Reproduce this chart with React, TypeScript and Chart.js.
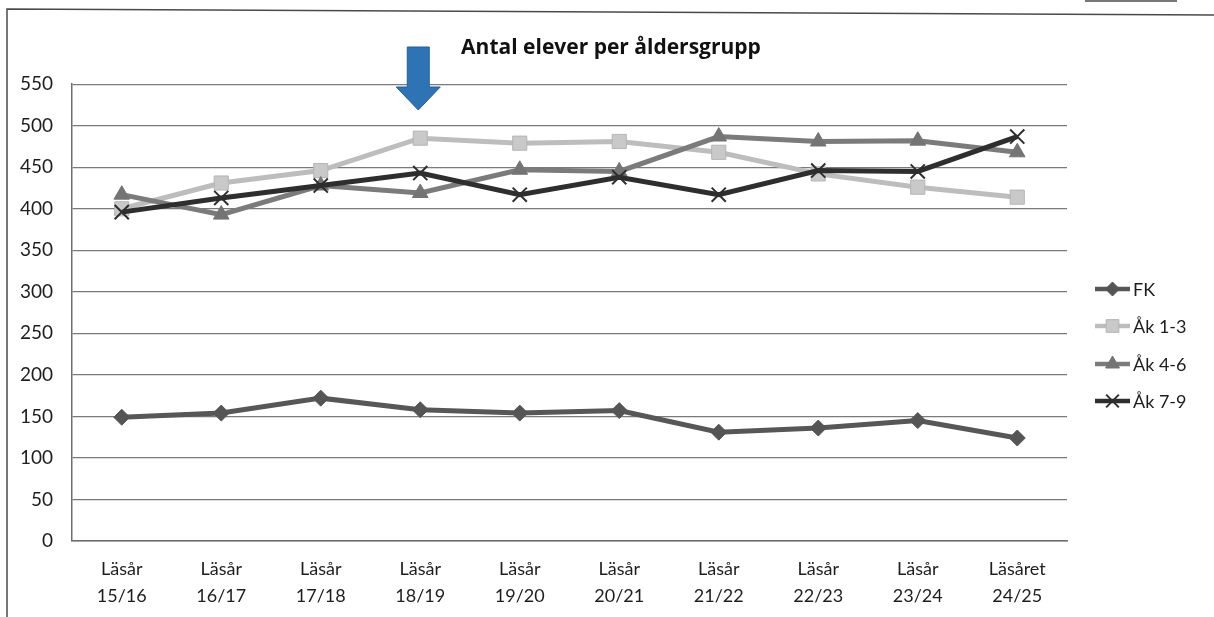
import React, { useEffect, useRef } from "react";
import { Chart, registerables } from "chart.js";

Chart.register(...registerables);

const TITLE = "Antal elever per åldersgrupp";
const categories: string[][] = [
  ["Läsår", "15/16"],
  ["Läsår", "16/17"],
  ["Läsår", "17/18"],
  ["Läsår", "18/19"],
  ["Läsår", "19/20"],
  ["Läsår", "20/21"],
  ["Läsår", "21/22"],
  ["Läsår", "22/23"],
  ["Läsår", "23/24"],
  ["Läsåret", "24/25"],
];
const seriesNames = ["FK", "Åk 1-3", "Åk 4-6", "Åk 7-9"];
const fk = [149, 154, 172, 158, 154, 157, 131, 136, 145, 124];
const ak13 = [400, 431, 446, 485, 479, 481, 468, 442, 426, 414];
const ak46 = [417, 393, 428, 419, 447, 445, 487, 481, 482, 468];
const ak79 = [396, 413, 428, 443, 417, 438, 417, 446, 445, 487];
const yMin = 0;
const yMax = 550;
const yStep = 50;
const arrowCategoryIndex = 3;

const FONT = "Lato, 'Open Sans', sans-serif";

type Style = {
  line: string;
  fill: string;
  border: string;
  point: any;
  radius: number;
  pbw: number;
};
const styles: Style[] = [
  { line: "#575757", fill: "#555555", border: "#555555", point: "rectRot", radius: 8, pbw: 1 },
  { line: "#bdbdbd", fill: "#c9c9c9", border: "#b5b5b5", point: "rect", radius: 10, pbw: 1 },
  { line: "#7b7b7b", fill: "#747474", border: "#747474", point: "triangle", radius: 9, pbw: 1 },
  { line: "#2e2e2e", fill: "#2e2e2e", border: "#2e2e2e", point: "crossRot", radius: 10, pbw: 2 },
];

function drawMarker(ctx: CanvasRenderingContext2D, st: Style, x: number, y: number) {
  const r = st.radius;
  ctx.fillStyle = st.fill;
  ctx.strokeStyle = st.border;
  ctx.lineWidth = st.pbw;
  ctx.beginPath();
  if (st.point === "rectRot") {
    ctx.moveTo(x, y - r);
    ctx.lineTo(x + r, y);
    ctx.lineTo(x, y + r);
    ctx.lineTo(x - r, y);
    ctx.closePath();
    ctx.fill();
    ctx.stroke();
  } else if (st.point === "rect") {
    const s = r * Math.SQRT1_2;
    ctx.rect(x - s, y - s, 2 * s, 2 * s);
    ctx.fill();
    ctx.stroke();
  } else if (st.point === "triangle") {
    ctx.moveTo(x, y - r);
    ctx.lineTo(x + r * 0.866, y + r / 2);
    ctx.lineTo(x - r * 0.866, y + r / 2);
    ctx.closePath();
    ctx.fill();
    ctx.stroke();
  } else {
    const s = r * Math.SQRT1_2;
    ctx.moveTo(x - s, y - s);
    ctx.lineTo(x + s, y + s);
    ctx.moveTo(x + s, y - s);
    ctx.lineTo(x - s, y + s);
    ctx.stroke();
  }
}

const framePlugin = {
  id: "frame",
  beforeDraw(chart: any) {
    const ctx = chart.ctx;
    ctx.save();
    ctx.fillStyle = "#ffffff";
    ctx.fillRect(0, 0, chart.width, chart.height);
    ctx.strokeStyle = "#4a4a4a";
    ctx.lineWidth = 1.5;
    ctx.beginPath();
    ctx.moveTo(7, chart.height);
    ctx.lineTo(7, 9);
    ctx.lineTo(chart.width, 15);
    ctx.stroke();
    ctx.beginPath();
    ctx.moveTo(1085, 1);
    ctx.lineTo(1177, 1);
    ctx.stroke();
    ctx.restore();
  },
};

const arrowPlugin = {
  id: "arrow",
  afterDraw(chart: any) {
    const ctx = chart.ctx;
    const x = chart.scales.x.getPixelForValue(arrowCategoryIndex) - 2;
    ctx.save();
    ctx.fillStyle = "#2e74b5";
    ctx.strokeStyle = "#235f96";
    ctx.lineWidth = 1;
    ctx.beginPath();
    ctx.moveTo(x - 11, 47);
    ctx.lineTo(x + 11, 47);
    ctx.lineTo(x + 11, 87);
    ctx.lineTo(x + 22, 87);
    ctx.lineTo(x, 110);
    ctx.lineTo(x - 22, 87);
    ctx.lineTo(x - 11, 87);
    ctx.closePath();
    ctx.fill();
    ctx.stroke();
    ctx.restore();
  },
};

const legendPlugin = {
  id: "customLegend",
  afterDraw(chart: any) {
    const ctx = chart.ctx;
    const x0 = 1095;
    const x1 = 1130;
    const ys = [289, 326, 364, 401];
    ctx.save();
    chart.data.datasets.forEach((ds: any, i: number) => {
      const st = styles[i];
      const y = ys[i];
      ctx.strokeStyle = st.line;
      ctx.lineWidth = 4.5;
      ctx.beginPath();
      ctx.moveTo(x0, y);
      ctx.lineTo(x1, y);
      ctx.stroke();
      drawMarker(ctx, { ...st, radius: st.radius - 1 }, (x0 + x1) / 2, y);
      ctx.fillStyle = "#1e1e1e";
      ctx.font = `18px ${FONT}`;
      ctx.textBaseline = "middle";
      ctx.textAlign = "left";
      ctx.fillText(ds.label, x1 + 3, y + 1);
    });
    ctx.restore();
  },
};

export default function App() {
  const ref = useRef<HTMLCanvasElement | null>(null);
  useEffect(() => {
    if (!ref.current) return;
    const data = [fk, ak13, ak46, ak79];
    const chart = new Chart(ref.current, {
      type: "line",
      data: {
        labels: categories,
        datasets: data.map((d, i) => ({
          label: seriesNames[i],
          data: d,
          borderColor: styles[i].line,
          backgroundColor: styles[i].fill,
          pointBackgroundColor: styles[i].fill,
          pointBorderColor: styles[i].border,
          pointStyle: styles[i].point,
          pointRadius: styles[i].radius,
          pointBorderWidth: styles[i].pbw,
          borderWidth: 5,
          tension: 0,
          fill: false,
          order: 4 - i,
          yAxisID: "y",
        })),
      },
      options: {
        animation: false,
        responsive: true,
        maintainAspectRatio: false,
        layout: { padding: { left: 8, right: 0, top: 0, bottom: 4 } },
        plugins: {
          legend: { display: false },
          tooltip: { enabled: false },
          title: {
            display: true,
            text: TITLE,
            color: "#111111",
            font: { family: "'Open Sans', sans-serif", size: 21, weight: "bold" },
            padding: { top: 35, bottom: 24 },
          },
        },
        scales: {
          x: {
            offset: true,
            afterFit: (scale: any) => {
              scale.height = 72;
            },
            grid: { display: false, drawTicks: false },
            border: { display: true, color: "#6e6e6e", width: 1.5 },
            ticks: {
              color: "#1e1e1e",
              font: { family: FONT, size: 18, lineHeight: 1.5 },
              padding: 15,
              maxRotation: 0,
              autoSkip: false,
            },
          },
          y: {
            min: yMin,
            max: yMax,
            afterFit: (scale: any) => {
              scale.width = 64;
            },
            grid: { color: "#7a7a7a", lineWidth: 1.3, drawTicks: false },
            border: { display: true, color: "#6e6e6e", width: 1.5 },
            ticks: {
              stepSize: yStep,
              color: "#1e1e1e",
              font: { family: FONT, size: 19 },
              padding: 19,
            },
          },
          yRight: {
            position: "right",
            display: true,
            min: yMin,
            max: yMax,
            afterFit: (scale: any) => {
              scale.width = 147;
            },
            grid: { display: false, drawTicks: false },
            border: { display: false },
            ticks: { display: false },
          },
        },
      },
      plugins: [framePlugin, arrowPlugin, legendPlugin],
    });
    return () => chart.destroy();
  }, []);
  return (
    <div style={{ position: "absolute", left: 0, top: 0, width: 1214, height: 617, background: "#fff" }}>
      <canvas ref={ref} />
    </div>
  );
}
